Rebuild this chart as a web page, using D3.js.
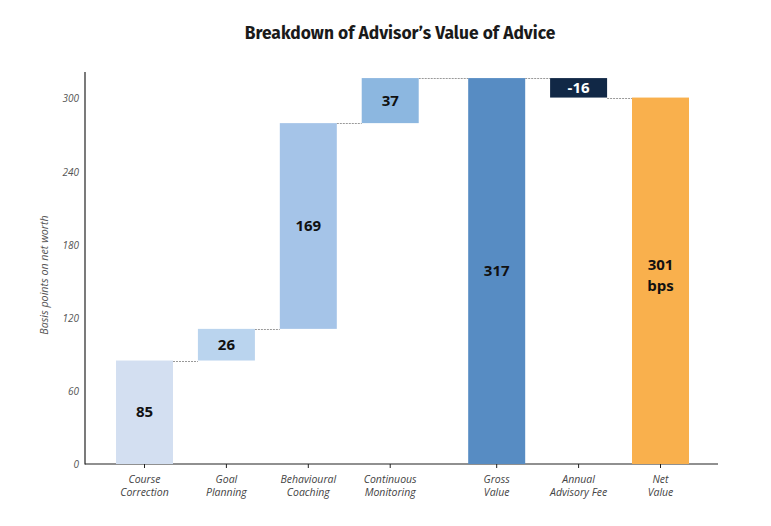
<!DOCTYPE html>
<html>
<head>
<meta charset="utf-8">
<script src="https://cdn.jsdelivr.net/npm/d3@7"></script>
<style>
  body { margin: 0; background: #fff; }
  svg { display: block; }
  .title { font-family: "Fira Sans", "Open Sans", sans-serif; font-weight: 700; font-size: 17.4px; fill: #1a1a1a; }
  .tick-lbl { font-family: "Open Sans", sans-serif; font-style: italic; font-size: 10px; fill: #555; }
  .val { font-family: "Open Sans", sans-serif; font-weight: 700; font-size: 15px; }
</style>
</head>
<body>
<svg id="chart" width="771" height="526"></svg>
<script>
// data
var categories = ["Course Correction", "Goal Planning", "Behavioural Coaching", "Continuous Monitoring",
                  "Gross Value", "Annual Advisory Fee", "Net Value"];
var catLines = [["Course", "Correction"], ["Goal", "Planning"], ["Behavioural", "Coaching"],
                ["Continuous", "Monitoring"], ["Gross", "Value"], ["Annual", "Advisory Fee"], ["Net", "Value"]];
var values = [85, 26, 169, 37, 317, -16, 301];
var kinds = ["step", "step", "step", "step", "total", "step", "total"];
var valueLabels = [["85"], ["26"], ["169"], ["37"], ["317"], ["-16"], ["301", "bps"]];
var colors = ["#d3dff1", "#bad4ee", "#a5c4e8", "#8cb7e0", "#578cc3", "#112846", "#f9b04d"];
var labelColors = ["#111", "#111", "#111", "#111", "#111", "#fff", "#111"];
var yTicks = [0, 60, 120, 180, 240, 300];

var svg = d3.select("#chart");
var plotL = 85, plotR = 718, plotT = 72, plotB = 464;

// running totals -> bar start/end
var run = 0, bars = [];
values.forEach(function(v, i) {
  var b = {i: i, v: v};
  if (kinds[i] === "total") { b.y0 = 0; b.y1 = v; run = v; }
  else { b.y0 = run; b.y1 = run + v; run += v; }
  bars.push(b);
});

var y = d3.scaleLinear().domain([0, 322]).range([plotB, plotT]);
// slot index with a wider gap before the totals
var slot = function(i) { return i + (i >= 4 ? 0.3 : 0); };
var xs = d3.scaleLinear().domain([0, slot(6)]).range([144.5, 660.5]);
var bw = 57;

svg.append("text").attr("class", "title")
  .attr("x", 400).attr("y", 39).attr("text-anchor", "middle")
  .text("Breakdown of Advisor\u2019s Value of Advice");

// y axis
var yAxis = d3.axisLeft(y).tickValues(yTicks).tickSize(0).tickPadding(6);
var gy = svg.append("g").attr("transform", "translate(" + plotL + ",0)").call(yAxis);
gy.select(".domain").remove();
gy.selectAll("text").attr("class", "tick-lbl").attr("fill", null);
gy.attr("font-family", null).attr("font-size", null);
svg.append("line").attr("x1", plotL).attr("x2", plotL).attr("y1", plotT).attr("y2", plotB + 0.5)
  .attr("stroke", "#222").attr("stroke-width", 1.2);

svg.append("text").attr("class", "tick-lbl")
  .attr("transform", "translate(48,275) rotate(-90)")
  .attr("text-anchor", "middle").style("font-size", "10.7px")
  .text("Basis points on net worth");

// x axis
svg.append("line").attr("x1", plotL).attr("x2", plotR).attr("y1", plotB).attr("y2", plotB)
  .attr("stroke", "#222").attr("stroke-width", 1.2);
var gx = svg.append("g");
categories.forEach(function(c, i) {
  var cx = xs(slot(i));
  gx.append("line").attr("x1", cx).attr("x2", cx).attr("y1", plotB).attr("y2", plotB + 4)
    .attr("stroke", "#222");
  var t = gx.append("text").attr("class", "tick-lbl").attr("text-anchor", "middle")
    .style("font-size", "10.5px").style("fill", "#444");
  catLines[i].forEach(function(l, k) {
    t.append("tspan").attr("x", cx).attr("y", 483 + k * 13).text(l);
  });
});

// connectors
for (var i = 0; i < bars.length - 1; i++) {
  var level = bars[i].y1;
  var ly = Math.round(y(level)) + 0.5;
  svg.append("line")
    .attr("x1", xs(slot(i)) + bw / 2).attr("x2", xs(slot(i + 1)) - bw / 2)
    .attr("y1", ly).attr("y2", ly)
    .attr("stroke", "#999").attr("stroke-width", 1).attr("stroke-dasharray", "2,1");
}

// bars
svg.selectAll("rect.bar").data(bars).enter().append("rect").attr("class", "bar")
  .attr("x", function(d) { return xs(slot(d.i)) - bw / 2; })
  .attr("width", bw)
  .attr("y", function(d) { return y(Math.max(d.y0, d.y1)); })
  .attr("height", function(d) { return Math.abs(y(d.y0) - y(d.y1)); })
  .attr("fill", function(d) { return colors[d.i]; });

// value labels (multi-line labels sit a little above the middle)
bars.forEach(function(d) {
  var mid = y((d.y0 + d.y1) / 2);
  var lines = valueLabels[d.i];
  var lift = lines.length > 1 ? 5 : 0;
  var t = svg.append("text").attr("class", "val").attr("text-anchor", "middle")
    .attr("fill", labelColors[d.i]);
  lines.forEach(function(l, k) {
    t.append("tspan").attr("x", xs(slot(d.i)))
      .attr("y", mid + 5 - lift + (k - (lines.length - 1) / 2) * 21).text(l);
  });
});
</script>
</body>
</html>
